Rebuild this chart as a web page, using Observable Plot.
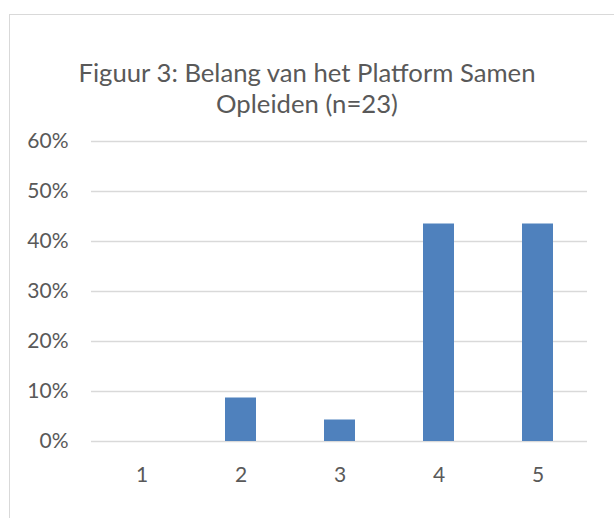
<!DOCTYPE html>
<html>
<head>
<meta charset="utf-8">
<script src="https://cdn.jsdelivr.net/npm/d3@7"></script>
<script src="https://cdn.jsdelivr.net/npm/@observablehq/plot@0.6"></script>
<style>
  html, body { margin: 0; padding: 0; background: #fff; overflow: hidden; }
  #wrap { position: relative; width: 614px; height: 518px; overflow: hidden; font-family: Lato, sans-serif; }
  #frame { position: absolute; left: 9px; top: 14px; width: 700px; height: 600px; border: 1.5px solid #d9d9d9; box-sizing: border-box; }
  #title { position: absolute; left: 9px; top: 57px; width: 596px; text-align: center; color: #595959; font-size: 25.7px; line-height: 31px; }
  #chart { position: absolute; left: 0; top: 120px; }
</style>
</head>
<body>
<div id="wrap">
  <div id="frame"></div>
  <div id="title">Figuur 3: Belang van het Platform Samen<br>Opleiden (n=23)</div>
  <div id="chart"></div>
</div>
<script>
const categories = ["1", "2", "3", "4", "5"];
const shares = [0, 0.087, 0.043, 0.435, 0.435];
const yTicks = [0, 0.1, 0.2, 0.3, 0.4, 0.5, 0.6];

const data = categories.map((c, i) => ({cat: c, value: shares[i]}));

const chart = Plot.plot({
  width: 614,
  height: 380,
  marginTop: 21,
  marginBottom: 59,
  marginLeft: 91,
  marginRight: 27,
  style: {fontFamily: "Lato, sans-serif", color: "#595959", background: "transparent"},
  x: {domain: categories, paddingInner: 0.69, paddingOuter: 0.345, label: null},
  y: {domain: [0, 0.6], ticks: yTicks, label: null, tickFormat: d => Math.round(d * 100) + "%"},
  marks: [
    Plot.ruleY(yTicks, {stroke: "#d9d9d9", strokeWidth: 1.3}),
    Plot.barY(data, {x: "cat", y: "value", fill: "#4f81bd"}),
    Plot.axisY({ticks: yTicks, tickSize: 0, tickPadding: 23, fontSize: 21, fill: "#595959", tickFormat: d => Math.round(d * 100) + "%"}),
    Plot.axisX({tickSize: 0, tickPadding: 26, fontSize: 21, fill: "#595959"})
  ]
});
document.getElementById("chart").appendChild(chart);
</script>
</body>
</html>
